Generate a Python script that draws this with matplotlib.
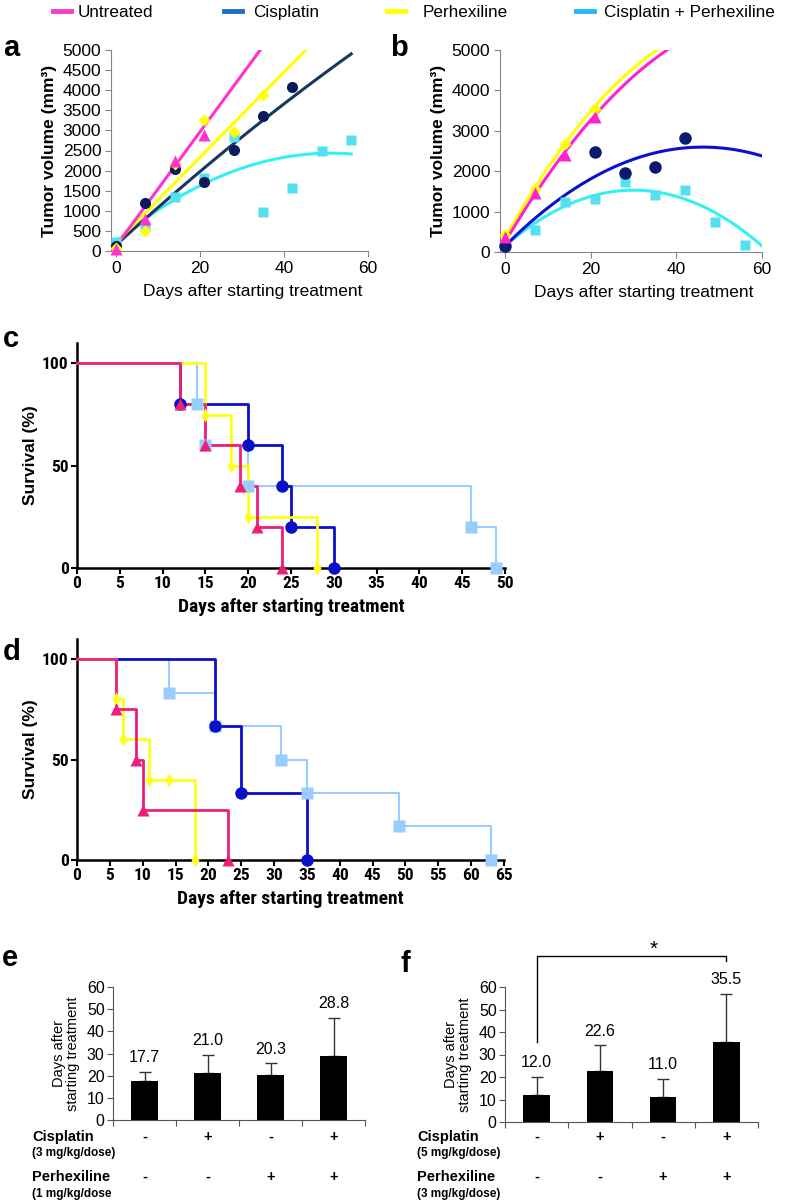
import matplotlib
matplotlib.use('Agg')
import matplotlib.pyplot as plt
import matplotlib.transforms as mtransforms
from matplotlib.lines import Line2D
import numpy as np

plt.rcParams['font.family'] = ['Liberation Sans', 'DejaVu Sans']
narrow = ['Roboto Condensed', 'Liberation Sans', 'DejaVu Sans']

# ---------------- data ----------------
# panel a: tumour volume, points and fitted trend (polynomial coefficients)
a_unt_d = [0, 7, 14, 21]
a_unt = [50, 800, 2250, 2875]
a_unt_fit = [142, 125]
a_cis_d = [0, 7, 14, 21, 28, 35, 42]
a_cis = [125, 1190, 2040, 1725, 2520, 3350, 4080]
a_cis_fit = [-0.181, 95, 150]
a_per_d = [0, 7, 14, 21, 28, 35]
a_per = [80, 500, 2170, 3250, 2960, 3875]
a_per_fit = [106, 210]
a_com_d = [0, 7, 14, 21, 28, 35, 42, 49, 56]
a_com = [233, 600, 1350, 1820, 2830, 980, 1560, 2480, 2770]
a_com_fit = [-0.835, 85.4, 250]

# panel b
b_unt_d = [0, 7, 14, 21]
b_unt = [370, 1460, 2410, 3350]
b_unt_fit = [-1.42, 179.3, 250]
b_per_d = [0, 7, 14, 21]
b_per = [415, 1570, 2670, 3550]
b_per_fit = [-1.68, 190.6, 350]
b_cis_d = [0, 21, 28, 35, 42]
b_cis = [140, 2480, 1960, 2110, 2810]
b_cis_fit = [-1.148, 106, 150]
b_com_d = [0, 7, 14, 21, 28, 35, 42, 49, 56]
b_com = [140, 540, 1240, 1300, 1740, 1420, 1530, 745, 180]
b_com_fit = [-1.533, 92, 150]

# panel c: survival (%)
c_unt_t = [0, 12, 15, 19, 21, 24]
c_unt_s = [100, 80, 60, 40, 20, 0]
c_cis_t = [0, 12, 20, 24, 25, 30]
c_cis_s = [100, 80, 60, 40, 20, 0]
c_per_t = [0, 15, 18, 20, 28]
c_per_s = [100, 75, 50, 25, 0]
c_com_t = [0, 14, 15, 20, 46, 49]
c_com_s = [100, 80, 60, 40, 20, 0]

# panel d
d_unt_t = [0, 6, 9, 10, 23]
d_unt_s = [100, 75, 50, 25, 0]
d_per_t = [0, 6, 7, 11, 14, 18]
d_per_s = [100, 80, 60, 40, 40, 0]
d_cis_t = [0, 21, 25, 35]
d_cis_s = [100, 66.7, 33.3, 0]
d_com_t = [0, 14, 21, 31, 35, 49, 63]
d_com_s = [100, 83.3, 66.7, 50, 33.3, 16.7, 0]

# panels e / f: median survival
e_vals = [17.7, 21.0, 20.3, 28.8]
e_err = [4.0, 8.5, 5.3, 17.2]
f_vals = [12.0, 22.6, 11.0, 35.5]
f_err = [8.0, 11.5, 8.1, 21.5]
cis_sign = ['-', '+', '-', '+']
per_sign = ['-', '-', '+', '+']

legend_labels = ['Untreated', 'Cisplatin', 'Perhexiline', 'Cisplatin + Perhexiline']
legend_cols = ['#f040c8', '#1f6fc0', '#ffff00', '#22bbf0']

W, H = 787, 1203
fig = plt.figure(figsize=(W / 100, H / 100), dpi=100)


def box(l, r, t, b):
    return [l / W, 1 - b / H, (r - l) / W, (b - t) / H]


def fy(y):
    return 1 - y / H


# ---------------- legend (one entry each, placed across the top) ----------------
for lab, col, x0, pad in zip(legend_labels, legend_cols, [53, 224, 387, 576],
                             [0.4, 0.69, 1.04, 0.6]):
    fig.legend([Line2D([], [], color=col, lw=3.5)], [lab], loc='center left',
               bbox_to_anchor=(x0 / W, fy(12.5)), frameon=False, fontsize=12.3,
               handlelength=1.04, handletextpad=pad, borderpad=0, borderaxespad=0)


# ---------------- panels a, b ----------------
def volume_panel(ax, series, xmax_fit, ystep):
    for d, v, fit, mk, pc, lc, ms in series:
        xx = np.linspace(0, xmax_fit, 200)
        ax.plot(xx, np.polyval(fit, xx), color=lc, lw=2.2, zorder=2)
    for d, v, fit, mk, pc, lc, ms in series:
        ax.plot(d, v, mk, color=pc, ms=ms, mec='none', zorder=3, clip_on=False)
    ax.set_xlim(-1.2, 60)
    ax.set_ylim(0, 5000)
    ax.set_xticks([0, 20, 40, 60])
    ax.set_yticks(np.arange(0, 5001, ystep))
    for s in ['top', 'right']:
        ax.spines[s].set_visible(False)
    for s in ['left', 'bottom']:
        ax.spines[s].set_color('#868686')
    ax.tick_params(labelsize=12.5, color='#868686', length=4, pad=3)
    ax.set_ylabel('Tumor volume (mm³)', fontsize=12.5, fontweight='bold', labelpad=4)
    ax.set_xlabel('Days after starting treatment', fontsize=12.5, labelpad=6, x=0.55)


ax_a = fig.add_axes(box(111, 368, 50, 251))
volume_panel(ax_a, [
    (a_com_d, a_com, a_com_fit, 's', '#55e0f0', '#33f0f5', 7),
    (a_cis_d, a_cis, a_cis_fit, 'o', '#0b1a5e', '#17375e', 8),
    (a_per_d, a_per, a_per_fit, 'D', '#ffff00', '#ffff00', 6),
    (a_unt_d, a_unt, a_unt_fit, '^', '#ff33cc', '#ff33cc', 8),
], 56, 500)

ax_b = fig.add_axes(box(500, 762, 50, 252))
volume_panel(ax_b, [
    (b_com_d, b_com, b_com_fit, 's', '#55e0f0', '#33f0f5', 7),
    (b_cis_d, b_cis, b_cis_fit, 'o', '#0b1a6e', '#0a10d0', 9),
    (b_per_d, b_per, b_per_fit, 'D', '#ffff00', '#ffff00', 6),
    (b_unt_d, b_unt, b_unt_fit, '^', '#ff22cc', '#ff22cc', 8),
], 60, 1000)


# ---------------- panels c, d ----------------
def km_panel(ax, series, xmax):
    for t, s, mk, c, lw, ms in series:
        ax.step(t, s, where='post', color=c, lw=lw, clip_on=False, zorder=3)
        ax.plot(t[1:], s[1:], mk, color=c, ms=ms, mec='none', clip_on=False, zorder=4)
    ax.set_xlim(0, xmax)
    ax.set_ylim(0, 110)
    ax.set_xticks(np.arange(0, xmax + 1, 5))
    ax.set_yticks([0, 50, 100])
    for s in ['top', 'right']:
        ax.spines[s].set_visible(False)
    for s in ['left', 'bottom']:
        ax.spines[s].set_linewidth(1.8)
    ax.tick_params(width=1.5, length=4, pad=2)
    for lab in ax.get_xticklabels() + ax.get_yticklabels():
        lab.set_fontfamily(narrow)
        lab.set_fontweight('bold')
        lab.set_fontsize(12.5)
    ax.set_ylabel('Survival (%)', fontsize=12.5, fontweight='bold', labelpad=3)
    ax.set_xlabel('Days after starting treatment', fontsize=14, fontweight='bold',
                  family=narrow, labelpad=5)


pink, navy, yel, lblue = '#ee1f7a', '#0a10c8', '#ffff1a', '#99ccff'

ax_c = fig.add_axes(box(77, 505, 343, 568))
km_panel(ax_c, [
    (c_com_t, c_com_s, 's', lblue, 1.5, 8),
    (c_cis_t, c_cis_s, 'o', navy, 2, 9),
    (c_per_t, c_per_s, 'd', yel, 2, 7),
    (c_unt_t, c_unt_s, '^', pink, 2, 8),
], 50)

ax_d = fig.add_axes(box(77, 504, 639, 860))
km_panel(ax_d, [
    (d_com_t, d_com_s, 's', lblue, 1.5, 8),
    (d_cis_t, d_cis_s, 'o', navy, 2, 9),
    (d_per_t, d_per_s, 'd', yel, 2, 7),
    (d_unt_t, d_unt_s, '^', pink, 2, 8),
], 65)


# ---------------- panels e, f ----------------
def bar_panel(ax, vals, err, dose1, dose2, label_x):
    x = np.arange(len(vals))
    ax.bar(x, vals, width=0.42, color='black', zorder=2)
    ax.errorbar(x, vals, yerr=[np.zeros(len(err)), err], fmt='none', ecolor='#333333',
                elinewidth=1, capsize=4, capthick=1, zorder=1)
    for xi, v, e in zip(x, vals, err):
        ax.text(xi, v + e + 3, f'{v:.1f}', ha='center', va='bottom', fontsize=11.5)
    ax.set_xlim(-0.5, 3.5)
    ax.set_ylim(0, 60)
    ax.set_yticks(np.arange(0, 61, 10))
    ax.set_xticks(np.arange(-0.5, 3.6, 1))
    ax.set_xticklabels([])
    for s in ['top', 'right']:
        ax.spines[s].set_visible(False)
    for s in ['left', 'bottom']:
        ax.spines[s].set_color('#555555')
    ax.tick_params(labelsize=11.5, color='#555555', length=4, pad=2)
    ax.set_ylabel('Days after\nstarting treatment', fontsize=10.5, linespacing=1.0, labelpad=5)
    tr = mtransforms.blended_transform_factory(ax.transData, fig.transFigure)
    for xi, c, p in zip(x, cis_sign, per_sign):
        ax.text(xi, fy(1137), c, transform=tr, ha='center', va='center',
                fontsize=10.5, fontweight='bold')
        ax.text(xi, fy(1177), p, transform=tr, ha='center', va='center',
                fontsize=10.5, fontweight='bold')
    fig.text(label_x / W, fy(1137), 'Cisplatin', ha='left', va='center',
             fontsize=10.5, fontweight='bold')
    fig.text(label_x / W, fy(1153), dose1, ha='left', va='center',
             fontsize=8.5, fontweight='bold')
    fig.text(label_x / W, fy(1177), 'Perhexiline', ha='left', va='center',
             fontsize=10.5, fontweight='bold')
    fig.text(label_x / W, fy(1194), dose2, ha='left', va='center',
             fontsize=8.5, fontweight='bold')


ax_e = fig.add_axes(box(113, 365, 987, 1120))
bar_panel(ax_e, e_vals, e_err, '(3 mg/kg/dose)', '(1 mg/kg/dose', 32)

ax_f = fig.add_axes(box(505, 758, 987, 1122))
bar_panel(ax_f, f_vals, f_err, '(5 mg/kg/dose)', '(3 mg/kg/dose)', 417)
ax_f.plot([0, 0, 3, 3], [35.6, 73.8, 73.8, 71.6], color='black', lw=1, clip_on=False)
ax_f.text(1.85, 72.5, '*', ha='center', va='bottom', fontsize=15)

# ---------------- panel letters ----------------
for lx, ly, t in [(3, 56, 'a'), (390, 56, 'b'), (3, 347, 'c'), (3, 660, 'd'),
                  (2, 966, 'e'), (401, 972, 'f')]:
    fig.text(lx / W, fy(ly), t, fontsize=21, fontweight='bold', va='baseline', ha='left')

fig.savefig('out.png', dpi=100)
